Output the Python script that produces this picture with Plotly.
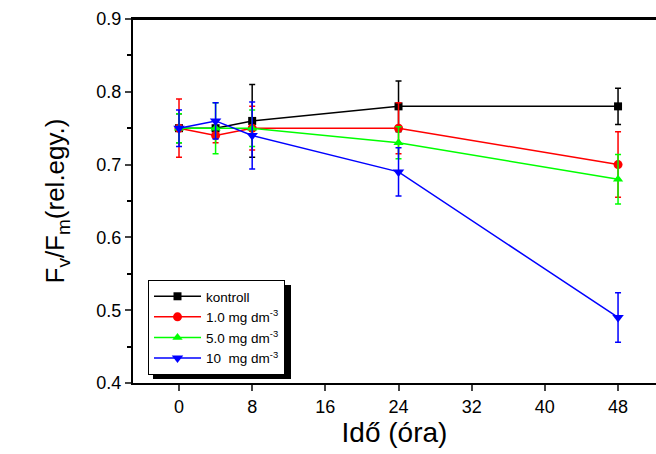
import plotly.graph_objects as go

time = [0, 4, 8, 24, 48]
series_names = ["kontroll", "1.0 mg dm<sup>-3</sup>", "5.0 mg dm<sup>-3</sup>", "10  mg dm<sup>-3</sup>"]
kontroll = [0.75, 0.75, 0.76, 0.78, 0.78]
kontroll_err = [0.02, 0.01, 0.05, 0.035, 0.025]
c1 = [0.75, 0.74, 0.75, 0.75, 0.70]
c1_err = [0.04, 0.01, 0.03, 0.035, 0.045]
c5 = [0.75, 0.75, 0.75, 0.73, 0.68]
c5_err = [0.02, 0.035, 0.025, 0.022, 0.034]
c10 = [0.75, 0.76, 0.74, 0.69, 0.49]
c10_err = [0.025, 0.025, 0.046, 0.033, 0.034]
x_ticks = [0, 8, 16, 24, 32, 40, 48]

colors = ["#000000", "#FF0000", "#00FF00", "#0000FF"]
symbols = ["square", "circle", "triangle-up", "triangle-down"]
msizes = [8, 9, 9, 10]
values = [kontroll, c1, c5, c10]
errs = [kontroll_err, c1_err, c5_err, c10_err]

FONT = "Liberation Sans, Arial, sans-serif"

fig = go.Figure()
for name, y, e, col, sym, ms in zip(series_names, values, errs, colors, symbols, msizes):
    fig.add_trace(go.Scatter(
        x=time, y=y, name=name, mode="lines+markers",
        line=dict(color=col, width=1.5),
        marker=dict(color=col, symbol=sym, size=ms),
        error_y=dict(type="data", array=e, visible=True, color=col, thickness=1.5, width=3),
    ))

W, H = 656, 454
L, R, T, B = 133, 0, 19, 71
pw, ph = W - L - R, H - T - B

def px(x):
    return (x - L) / pw

def py(y):
    return (H - B - y) / ph

# legend shadow
fig.add_shape(type="rect", xref="paper", yref="paper",
              x0=px(153), x1=px(291), y0=py(379), y1=py(285),
              fillcolor="black", line=dict(width=0), layer="above")
# top frame line
fig.add_shape(type="line", xref="paper", yref="paper", x0=0, x1=1, y0=1, y1=1,
              line=dict(color="black", width=2), layer="above")

ytitle = ('F<sub><span style="font-size:19px">v</span></sub>/'
          'F<sub><span style="font-size:19px">m</span></sub>(rel.egy.)')

fig.update_layout(
    width=W, height=H,
    margin=dict(l=L, r=R, t=T, b=B),
    paper_bgcolor="white", plot_bgcolor="white",
    font=dict(family=FONT, color="black"),
    showlegend=True,
    legend=dict(x=px(148), y=py(280), xanchor="left", yanchor="top",
                bgcolor="white", bordercolor="black", borderwidth=1,
                font=dict(size=13.5, family=FONT), tracegroupgap=0,
                itemwidth=47),
    xaxis=dict(range=[-5.03, 52.15], tickvals=x_ticks, ticks="outside", ticklen=6, tickwidth=2,
               showline=True, linewidth=2, linecolor="black", mirror=True,
               showgrid=False, zeroline=False, tickfont=dict(size=18),
               title=dict(text="Idő (óra)", font=dict(size=28), standoff=6)),
    yaxis=dict(range=[0.4, 0.9], dtick=0.1, tick0=0.4, ticks="outside", ticklen=6, tickwidth=2,
               tickformat=".1f",
               minor=dict(dtick=0.05, ticks="outside", ticklen=4, tickwidth=2, tickcolor="black"),
               showline=True, linewidth=2, linecolor="black",
               showgrid=False, zeroline=False, tickfont=dict(size=18),
               title=dict(text=ytitle, font=dict(size=26), standoff=24)),
)

fig.write_html("out.html", config={"displayModeBar": False},
               post_script="document.body.style.margin='0';document.body.style.padding='0';")
